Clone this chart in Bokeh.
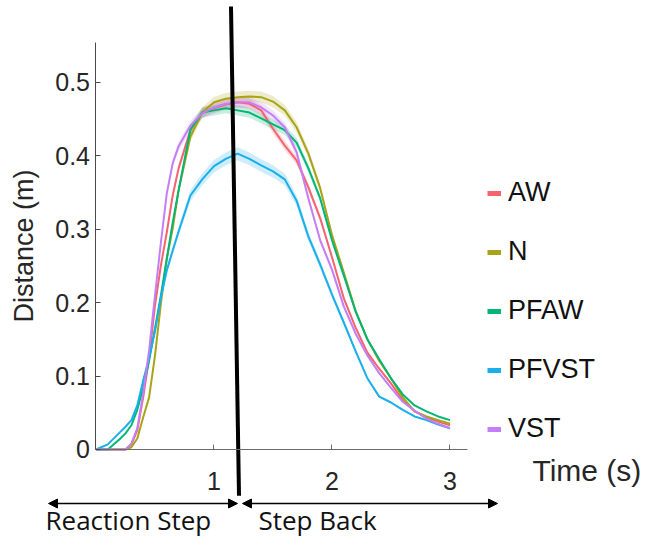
import numpy as np
from bokeh.plotting import figure
from bokeh.models import (Range1d, FixedTicker, Legend, LegendItem, Label,
                          Arrow, NormalHead)
from bokeh.embed import file_html
from bokeh.resources import INLINE

# ---------------- data ----------------
time_s = [0.0, 0.1, 0.2, 0.25, 0.3, 0.35, 0.4, 0.45, 0.5, 0.55, 0.6, 0.65, 0.7,
          0.8, 0.9, 1.0, 1.1, 1.2, 1.3, 1.4, 1.5, 1.6, 1.7, 1.8, 1.9, 2.0, 2.1,
          2.2, 2.3, 2.4, 2.5, 2.6, 2.7, 2.8, 2.9, 3.0]

aw = [0, 0, 0, 0, 0.007, 0.026, 0.071, 0.125, 0.196, 0.251, 0.296, 0.346, 0.383,
      0.435, 0.459, 0.465, 0.470, 0.473, 0.471, 0.462, 0.437, 0.414, 0.394, 0.357,
      0.315, 0.262, 0.206, 0.166, 0.132, 0.110, 0.090, 0.067, 0.052, 0.044, 0.038, 0.033]

n = [0, 0, 0, 0, 0.003, 0.015, 0.044, 0.071, 0.128, 0.199, 0.260, 0.301, 0.353,
     0.426, 0.459, 0.473, 0.478, 0.480, 0.481, 0.480, 0.474, 0.462, 0.439, 0.403,
     0.356, 0.292, 0.241, 0.189, 0.150, 0.121, 0.097, 0.071, 0.052, 0.045, 0.040, 0.035]

pfaw = [0, 0, 0.014, 0.022, 0.033, 0.054, 0.084, 0.121, 0.165, 0.210, 0.260, 0.309,
        0.353, 0.436, 0.459, 0.462, 0.465, 0.462, 0.459, 0.451, 0.443, 0.435, 0.418,
        0.383, 0.342, 0.285, 0.237, 0.188, 0.150, 0.123, 0.097, 0.075, 0.060, 0.052,
        0.045, 0.040]

pfvst = [0, 0.007, 0.023, 0.031, 0.040, 0.060, 0.094, 0.125, 0.161, 0.207, 0.244,
         0.271, 0.297, 0.346, 0.368, 0.386, 0.396, 0.403, 0.396, 0.387, 0.379, 0.368,
         0.339, 0.290, 0.252, 0.211, 0.173, 0.134, 0.097, 0.072, 0.064, 0.054, 0.045,
         0.040, 0.034, 0.029]

vst = [0, 0, 0, 0, 0.008, 0.029, 0.076, 0.135, 0.210, 0.282, 0.349, 0.390, 0.413,
       0.441, 0.458, 0.466, 0.471, 0.473, 0.473, 0.466, 0.455, 0.439, 0.405, 0.342,
       0.285, 0.245, 0.195, 0.158, 0.128, 0.104, 0.084, 0.065, 0.053, 0.042, 0.035, 0.029]

series_names = ["AW", "N", "PFAW", "PFVST", "VST"]
series_values = [aw, n, pfaw, pfvst, vst]
relative_error = [0.015, 0.016, 0.015, 0.022, 0.015]

x_ticks = [1, 2, 3]
x_tick_labels = ["1", "2", "3"]
y_ticks = [0, 0.1, 0.2, 0.3, 0.4, 0.5]
y_tick_labels = ["0", "0.1", "0.2", "0.3", "0.4", "0.5"]

divider_x = [1.144, 1.212]
divider_y = [0.6035, -0.063]

phase_labels = ["Reaction Step", "Step Back"]

# ---------------- styles ----------------
colors = ["#F4646E", "#A8A317", "#00B676", "#1AAEEB", "#C47EF7"]
TICK_FONT = "Liberation Sans"

p = figure(width=641, height=540, output_backend="svg", toolbar_location=None,
           x_range=Range1d(-0.8093, 4.6229), y_range=Range1d(-0.124, 0.6117),
           min_border=0, outline_line_color=None, background_fill_color="white",
           border_fill_color="white")
p.grid.visible = False

t = np.array(time_s)
legend_renderers = []
for name, vals, c, rel in zip(series_names, series_values, colors, relative_error):
    v = np.array(vals)
    hw = rel * v
    p.varea(x=t, y1=np.maximum(v - hw, 0), y2=v + hw, fill_color=c, fill_alpha=0.22)
for name, vals, c in zip(series_names, series_values, colors):
    p.line(t, vals, line_color=c, line_width=2, line_join="round")
    # single-point line: draws nothing in the plot, gives a thick legend swatch
    r = p.line(x=time_s[:1], y=vals[:1], line_color=c, line_width=5)
    legend_renderers.append(r)

# divider between phases
p.line(divider_x, divider_y, line_color="black", line_width=4)

# axes
for ax in p.xaxis:
    ax.fixed_location = 0
    ax.bounds = (0, 3.15)
    ax.ticker = FixedTicker(ticks=x_ticks)
    ax.major_label_overrides = {tk: lb for tk, lb in zip(x_ticks, x_tick_labels)}
    ax.major_tick_in = 5
    ax.major_tick_out = 0
    ax.minor_tick_line_color = None
    ax.axis_line_color = "#6a6a6a"
    ax.major_tick_line_color = "#6a6a6a"
    ax.major_label_standoff = 23
    ax.major_label_text_font = TICK_FONT
    ax.major_label_text_font_size = "25px"
    ax.major_label_text_color = "#262626"

for ax in p.yaxis:
    ax.fixed_location = 0
    ax.bounds = (0, 0.555)
    ax.ticker = FixedTicker(ticks=y_ticks)
    ax.major_label_overrides = {tk: lb for tk, lb in zip(y_ticks, y_tick_labels)}
    ax.major_tick_in = 5
    ax.major_tick_out = 0
    ax.minor_tick_line_color = None
    ax.axis_line_color = "#4a4a4a"
    ax.major_tick_line_color = "#4a4a4a"
    ax.major_label_standoff = 6
    ax.major_label_text_font = TICK_FONT
    ax.major_label_text_font_size = "25px"
    ax.major_label_text_color = "#262626"
    ax.axis_label = "Distance (m)"
    ax.axis_label_standoff = 13
    ax.axis_label_text_font = TICK_FONT
    ax.axis_label_text_font_size = "27px"
    ax.axis_label_text_font_style = "normal"
    ax.axis_label_text_color = "#262626"

# x-axis title placed at the right
p.add_layout(Label(x=3.699, y=-0.0286, text="Time (s)", text_font=TICK_FONT,
                   text_font_size="30px", text_color="#262626",
                   text_baseline="alphabetic", text_align="left"))

# phase arrows
head = dict(size=9, fill_color="black", line_color="black")
p.add_layout(Arrow(start=NormalHead(**head), end=NormalHead(**head),
                   x_start=-0.4025, y_start=-0.0736, x_end=1.199, y_end=-0.0736,
                   line_color="black", line_width=1.5))
p.add_layout(Arrow(start=NormalHead(**head), end=NormalHead(**head),
                   x_start=1.2415, y_start=-0.0736, x_end=3.4025, y_end=-0.0736,
                   line_color="black", line_width=1.5))

p.add_layout(Label(x=-0.428, y=-0.0954, text=phase_labels[0], text_font="Open Sans",
                   text_font_size="26px", text_color="#111111",
                   text_baseline="alphabetic", text_align="left"))
p.add_layout(Label(x=1.377, y=-0.0954, text=phase_labels[1], text_font="Open Sans",
                   text_font_size="26px", text_color="#111111",
                   text_baseline="alphabetic", text_align="left"))

legend = Legend(items=[LegendItem(label=nm, renderers=[r])
                       for nm, r in zip(series_names, legend_renderers)],
                location=(487, 96), glyph_width=14, glyph_height=30,
                label_height=30, spacing=28, label_standoff=7, padding=0,
                margin=0, border_line_color=None, background_fill_alpha=0,
                label_text_font=TICK_FONT, label_text_font_size="27px",
                label_text_color="#111111")
p.add_layout(legend)

open("out.html", "w").write(file_html(p, INLINE))
